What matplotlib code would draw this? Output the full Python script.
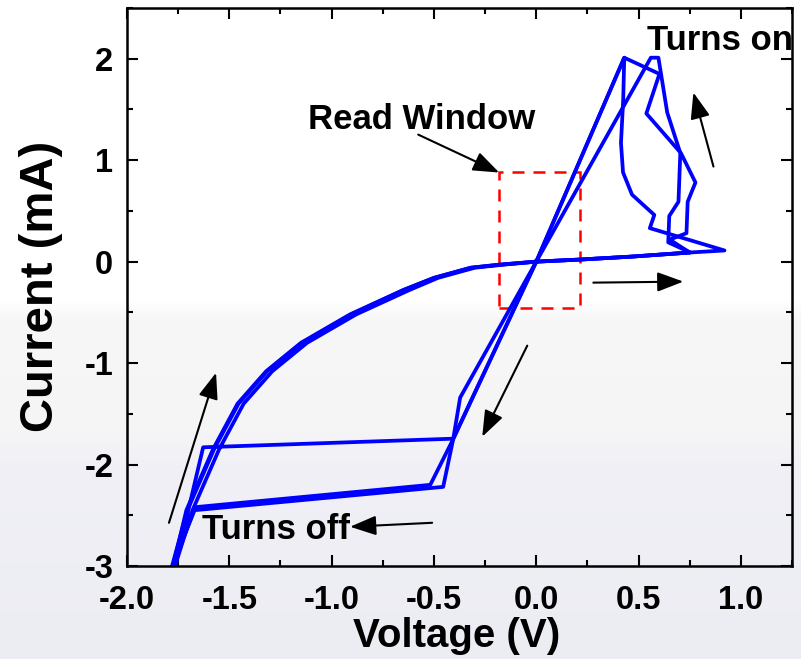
import numpy as np
import matplotlib
matplotlib.use('Agg')
import matplotlib.pyplot as plt
from matplotlib.patches import Rectangle
from matplotlib.ticker import MultipleLocator, FormatStrFormatter

plt.rcParams.update({'font.family': ['Liberation Sans', 'DejaVu Sans'],
                     'font.weight': 'bold',
                     'axes.unicode_minus': False})

# I-V sweeps (V in volts, I in mA), three cycles
v_cycle1 = [0.0, 0.21, 0.47, 0.75, 0.92, 0.555, 0.577, 0.468, 0.424, 0.414, 0.425, 0.43,
            0.0, -0.406, -0.518, -1.667, -1.775, -1.71, -1.58, -1.46, -1.32, -1.15,
            -0.91, -0.65, -0.50, -0.32, -0.18, 0.0]
i_cycle1 = [0.0, 0.02, 0.05, 0.09, 0.11, 0.33, 0.46, 0.66, 0.88, 1.17, 1.60, 2.01,
            0.0, -1.75, -2.20, -2.42, -3.0, -2.45, -1.85, -1.40, -1.08, -0.80,
            -0.52, -0.28, -0.16, -0.06, -0.03, 0.0]

v_cycle2 = [0.0, 0.21, 0.47, 0.75, 0.652, 0.734, 0.74, 0.778, 0.707, 0.538, 0.602, 0.43,
            0.0, -0.406, -1.628, -1.765, -1.68, -1.55, -1.43, -1.29, -1.12,
            -0.88, -0.62, -0.48, -0.30, -0.16, 0.0]
i_cycle2 = [0.0, 0.02, 0.05, 0.09, 0.217, 0.28, 0.59, 0.78, 1.07, 1.46, 1.85, 2.01,
            0.0, -1.745, -1.83, -3.0, -2.45, -1.85, -1.40, -1.08, -0.80,
            -0.52, -0.28, -0.16, -0.06, -0.03, 0.0]

v_cycle3 = [0.0, 0.21, 0.47, 0.753, 0.645, 0.65, 0.695, 0.704, 0.64, 0.597, 0.56,
            0.0, -0.372, -0.406, -0.455, -1.67, -1.78, -1.705, -1.575, -1.455, -1.315,
            -1.145, -0.905, -0.65, -0.50, -0.32, -0.18, 0.0]
i_cycle3 = [0.0, 0.02, 0.05, 0.09, 0.19, 0.45, 0.59, 1.07, 1.47, 2.01, 2.01,
            0.0, -1.34, -1.75, -2.22, -2.45, -3.0, -2.45, -1.85, -1.40, -1.08,
            -0.80, -0.52, -0.28, -0.16, -0.06, -0.03, 0.0]

# read window box corners
rw_v = [-0.18, 0.212]
rw_i = [-0.457, 0.88]

fig = plt.figure(figsize=(8.01, 6.59), dpi=100)

# faint slide background (white on top, light grey-lavender below)
H = 659
rows = np.arange(H)
stops = [0, 300, 318, 430, 465, H]
r = np.interp(rows, stops, [255, 255, 247, 245, 240, 236])
g = np.interp(rows, stops, [255, 255, 247, 245, 240, 236])
b = np.interp(rows, stops, [255, 255, 247, 246, 246, 243])
img = np.stack([r, g, b], axis=1)[:, None, :].repeat(4, axis=1) / 255.0
bg = fig.add_axes([0, 0, 1, 1])
bg.imshow(img, aspect='auto')
bg.set_axis_off()

ax = fig.add_axes([0.1586, 0.1411, 0.8302, 0.8468])
ax.set_facecolor('none')

for v, i in [(v_cycle1, i_cycle1), (v_cycle2, i_cycle2), (v_cycle3, i_cycle3)]:
    ax.plot(v, i, color='#0000ff', lw=2.7)

ax.add_patch(Rectangle((rw_v[0], rw_i[0]), rw_v[1] - rw_v[0], rw_i[1] - rw_i[0],
                       fill=False, ec='#ff0000', lw=1.8, ls=(0, (4.8, 3.6))))

ax.set_xlim(-2.0, 1.25)
ax.set_ylim(-3.0, 2.5)
ax.xaxis.set_major_locator(MultipleLocator(0.5))
ax.xaxis.set_minor_locator(MultipleLocator(0.25))
ax.yaxis.set_major_locator(MultipleLocator(1))
ax.yaxis.set_minor_locator(MultipleLocator(0.5))
ax.xaxis.set_major_formatter(FormatStrFormatter('%.1f'))
ax.yaxis.set_major_formatter(FormatStrFormatter('%d'))
ax.tick_params(which='both', direction='in', top=True, right=True, width=1.5, labelsize=23.5)
ax.tick_params(which='major', length=8)
ax.tick_params(which='minor', length=4)
ax.tick_params(axis='x', pad=14)
ax.tick_params(axis='y', pad=10)
for s in ax.spines.values():
    s.set_linewidth(1.8)

ax.set_xlabel('Voltage (V)', fontsize=29, fontweight='bold')
ax.set_ylabel('Current (mA)', fontsize=34, fontweight='bold')
ax.xaxis.set_label_coords(0.496, -0.0905)
ax.yaxis.set_label_coords(-0.096, 0.502)

aprops = dict(arrowstyle='-|>,head_length=0.8,head_width=0.3', mutation_scale=20,
              lw=1.5, color='k', shrinkA=0, shrinkB=0)
ax.annotate('', xy=(-0.181, 0.878), xytext=(-0.577, 1.252), arrowprops=aprops)
ax.annotate('', xy=(0.768, 1.667), xytext=(0.866, 0.937), arrowprops=aprops)
ax.annotate('', xy=(0.719, -0.197), xytext=(0.279, -0.207), arrowprops=aprops)
ax.annotate('', xy=(-0.264, -1.726), xytext=(-0.044, -0.828), arrowprops=aprops)
ax.annotate('', xy=(-1.565, -1.095), xytext=(-1.795, -2.574), arrowprops=aprops)
ax.annotate('', xy=(-0.91, -2.613), xytext=(-0.509, -2.574), arrowprops=aprops)

ax.text(-1.115, 1.40, 'Read Window', fontsize=25, fontweight='bold', ha='left', va='center')
ax.text(0.541, 2.18, 'Turns on', fontsize=25, fontweight='bold', ha='left', va='center', clip_on=False)
ax.text(-1.635, -2.643, 'Turns off', fontsize=25, fontweight='bold', ha='left', va='center')

fig.savefig('out.png', dpi=100)
